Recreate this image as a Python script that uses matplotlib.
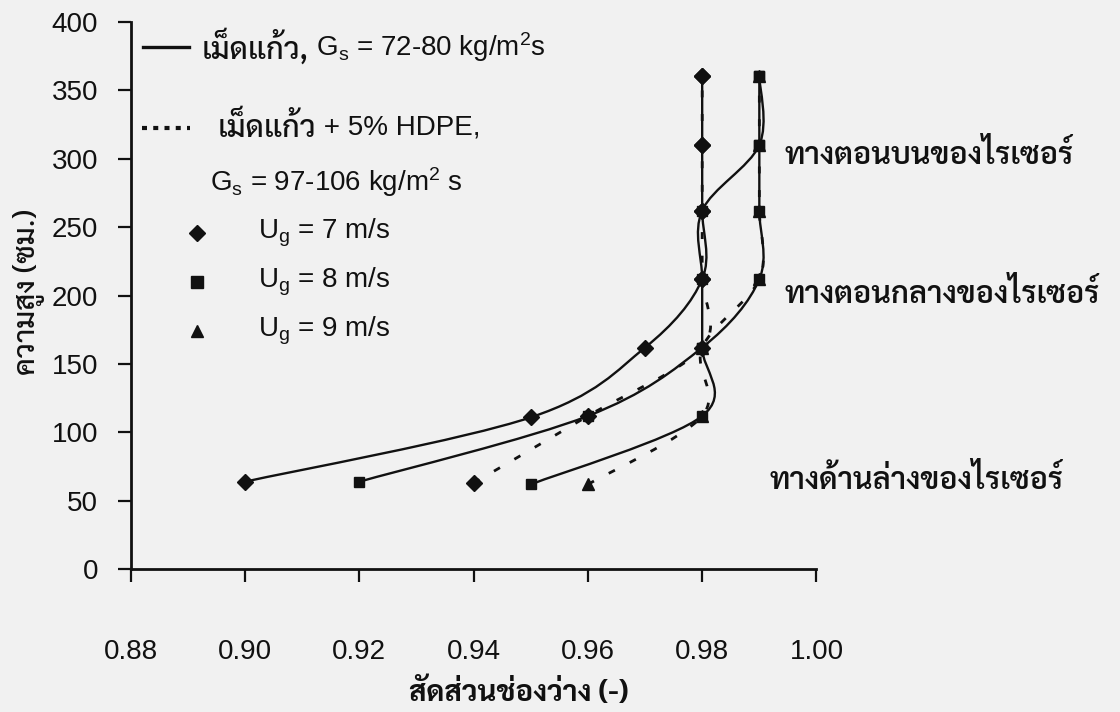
import numpy as np
import matplotlib
matplotlib.use("Agg")
import matplotlib.pyplot as plt
from matplotlib import font_manager
from matplotlib.path import Path
from matplotlib.patches import PathPatch

# voidage (x) against riser height in cm (y)
glass_ug7_x = [0.90, 0.95, 0.97, 0.98, 0.98, 0.98, 0.98]
glass_ug7_h = [64, 111, 162, 212, 262, 310, 360]
glass_ug8_x = [0.92, 0.96, 0.98, 0.99, 0.99, 0.99, 0.99]
glass_ug8_h = [64, 112, 162, 212, 262, 310, 360]
glass_ug9_x = [0.95, 0.98, 0.98, 0.98, 0.98, 0.99, 0.99]
glass_ug9_h = [62, 112, 162, 212, 262, 310, 360]
hdpe_ug7_x = [0.94, 0.96, 0.98, 0.98, 0.98, 0.98, 0.98]
hdpe_ug7_h = [63, 112, 162, 212, 262, 310, 360]
hdpe_ug9_x = [0.96, 0.98, 0.98, 0.99, 0.99, 0.99, 0.99]
hdpe_ug9_h = [62, 112, 162, 212, 262, 310, 360]

x_ticks = [0.88, 0.90, 0.92, 0.94, 0.96, 0.98, 1.00]
y_ticks = [0, 50, 100, 150, 200, 250, 300, 350, 400]

zone_labels = ["ทางตอนบนของไรเซอร์", "ทางตอนกลางของไรเซอร์", "ทางด้านล่างของไรเซอร์"]

installed = {f.name for f in font_manager.fontManager.ttflist}
thai = next((n for n in ["Sarabun", "Noto Sans Thai Looped", "Niramit", "Noto Sans Thai"]
             if n in installed), "DejaVu Sans")
latin = "Liberation Sans"

plt.rcParams["font.family"] = [latin, thai, "DejaVu Sans"]
plt.rcParams["mathtext.fontset"] = "custom"
plt.rcParams["mathtext.rm"] = latin
plt.rcParams["mathtext.it"] = latin + ":italic"

ink = "#111111"


def smooth_line(ax, xs, ys, **kw):
    # smoothed polyline through the points (cubic Bezier, Catmull-Rom handles)
    p = np.column_stack([xs, ys]).astype(float)
    verts, codes = [p[0]], [Path.MOVETO]
    n = len(p)
    for i in range(n - 1):
        p0 = p[i - 1] if i > 0 else p[i]
        p3 = p[i + 2] if i + 2 < n else p[i + 1]
        verts += [p[i] + (p[i + 1] - p0) / 6, p[i + 1] - (p3 - p[i]) / 6, p[i + 1]]
        codes += [Path.CURVE4] * 3
    ax.add_patch(PathPatch(Path(verts, codes), fill=False, **kw))


fig = plt.figure(figsize=(11.2, 7.12), dpi=100, facecolor="#f1f1f1")
ax = fig.add_axes([0.1167, 0.2004, 0.6123, 0.7691])
ax.set_facecolor("none")

solid = dict(color=ink, lw=1.7, linestyle="-")
dotted = dict(color=ink, lw=2.0, linestyle=(0, (2.5, 6.0)))

series = [
    (glass_ug7_x, glass_ug7_h, "D", 8, solid),
    (glass_ug8_x, glass_ug8_h, "s", 7, solid),
    (glass_ug9_x, glass_ug9_h, "s", 7, solid),
    (hdpe_ug7_x, hdpe_ug7_h, "D", 8, dotted),
    (hdpe_ug9_x, hdpe_ug9_h, "^", 8, dotted),
]
for xs, hs, mk, ms, style in series:
    smooth_line(ax, xs, hs, **style)
    ax.plot(xs, hs, linestyle="none", marker=mk, ms=ms, color=ink)

ax.set_xlim(0.88, 1.00)
ax.set_ylim(0, 400)
ax.set_xticks(x_ticks)
ax.set_xticklabels([f"{v:.2f}" for v in x_ticks])
ax.set_yticks(y_ticks)
for s in ["top", "right"]:
    ax.spines[s].set_visible(False)
for s in ["left", "bottom"]:
    ax.spines[s].set_linewidth(2.0)
    ax.spines[s].set_color(ink)
ax.tick_params(axis="both", direction="out", length=9.5, width=1.6, colors=ink,
               labelsize=20, labelcolor=ink)
ax.tick_params(axis="x", pad=41)
ax.tick_params(axis="y", pad=14)

ax.set_xlabel("สัดส่วนช่องว่าง (-)", family=thai, fontsize=21, fontweight="bold", color=ink)
ax.xaxis.label.set_va("center")
ax.xaxis.set_label_coords(0.566, -0.226)
ax.set_ylabel("ความสูง (ซม.)", family=thai, fontsize=21, fontweight="medium", color=ink)
ax.yaxis.set_label_coords(-0.125, 0.506)

# legend block, top left inside the axes
tr = ax.transAxes
ax.plot([0.018, 0.085], [0.954, 0.954], transform=tr, color=ink, lw=2.4)
t1 = ax.text(0.104, 0.954, "เม็ดแก้ว,", transform=tr, family=thai, fontsize=22,
             fontweight="medium", va="center", color=ink)
ax.annotate(r" G$_\mathregular{s}$ = 72-80 kg/m$^\mathregular{2}$s", xy=(1, 0.5), xycoords=t1,
            va="center", fontsize=20, color=ink)
ax.plot([0.017, 0.087], [0.806, 0.806], transform=tr, color=ink, lw=3.0,
        linestyle=(0, (1.2, 1.5)))
t2 = ax.text(0.127, 0.806, "เม็ดแก้ว", transform=tr, family=thai, fontsize=22,
             fontweight="medium", va="center", color=ink)
ax.annotate(" + 5% HDPE,", xy=(1, 0.5), xycoords=t2, va="center", fontsize=20, color=ink)
ax.text(0.116, 0.707, r"G$_\mathregular{s}$ = 97-106 kg/m$^\mathregular{2}$ s", transform=tr,
        fontsize=20, va="center", color=ink)
for fy, mk, ms, ug in [(0.614, "D", 8, 7), (0.525, "s", 8, 8), (0.435, "^", 9, 9)]:
    ax.plot([0.097], [fy], transform=tr, marker=mk, ms=ms, color=ink)
    ax.text(0.186, fy, rf"U$_\mathregular{{g}}$ = {ug} m/s", transform=tr, fontsize=20,
            va="center", color=ink)

# zone labels to the right of the plot
for (fx, fy), label in zip([(0.954, 0.756), (0.954, 0.501), (0.932, 0.163)], zone_labels):
    ax.text(fx, fy, label, transform=tr, family=thai, fontsize=22, fontweight="semibold",
            va="center", color=ink, clip_on=False)

fig.savefig("out.png", dpi=100, facecolor=fig.get_facecolor())
